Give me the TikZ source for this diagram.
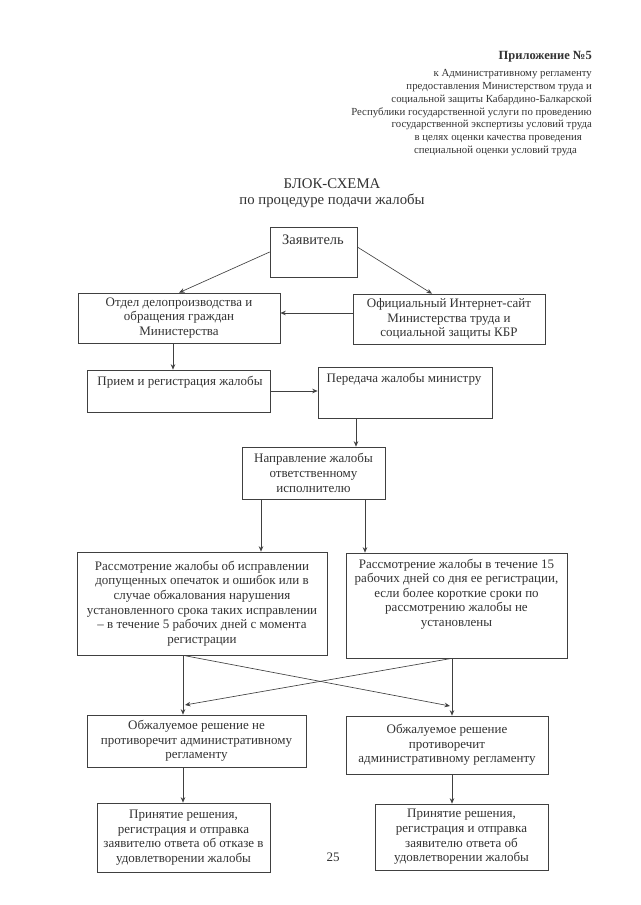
\documentclass[tikz,border=0pt]{standalone}
\usepackage{fontspec}
\setmainfont{Liberation Serif}
\usetikzlibrary{arrows.meta, calc}

\definecolor{ink}{gray}{0.2}
\definecolor{rulec}{gray}{0.25}

\begin{document}
\begin{tikzpicture}[x=1pt, y=-1pt,
	box/.style={draw=rulec, line width=0.65pt, inner sep=0pt, align=center, text=ink, font=\fontsize{13}{14.6}\selectfont},
	txt/.style={inner sep=0pt, align=center, text=ink, font=\fontsize{13}{14.6}\selectfont},
	arr/.style={draw=rulec, line width=0.65pt, -{Stealth[length=5.5pt, width=4.5pt]}}]
	\useasboundingbox [fill=white] (0, 0) rectangle (640, 905);

	\node (app) at (592, 57) [anchor=east, inner sep=0pt, text=ink, font=\fontsize{12.5}{14}\selectfont\bfseries] {Приложение №5};
	\node (reglam) at (592, 69) [anchor=north east, align=right, inner sep=0pt, text=ink, font=\fontsize{10.8}{12.9}\selectfont] {к Административному регламенту\\предоставления Министерством труда и\\социальной защиты Кабардино-Балкарской\\Республики государственной услуги по проведению\\государственной экспертизы условий труда\\в целях оценки качества проведения\mbox{\hspace{10pt}}\\специальной оценки условий труда\mbox{\hspace{15pt}}};

	\node (title) at (332, 193) [txt, font=\fontsize{14.8}{15.5}\selectfont] {БЛОК-СХЕМА\\по процедуре подачи жалобы};

	\node (zayav) at (313.5, 252) [box, minimum width=87pt, minimum height=50pt] {};
	\node (zayavtext) at (313, 240) [txt, font=\fontsize{14.5}{16}\selectfont] {Заявитель};
	\node (otdel) at (179, 318) [box, minimum width=202pt, minimum height=50pt] {Отдел делопроизводства и\\обращения граждан\\Министерства};
	\node (site) at (449, 319) [box, minimum width=192pt, minimum height=50pt] {Официальный Интернет-сайт\\Министерства труда и\\социальной защиты КБР};

	\draw [arr] (zayav.west) -- (otdel.north);
	\draw [arr] ([yshift=5pt]zayav.east) -- ([xshift=-17pt]site.north);
	\draw [arr] ([yshift=6pt]site.west) -- ([yshift=6pt]site.west -| otdel.east);

	\node (priem) at (178.5, 391) [box, minimum width=183pt, minimum height=42pt] {};
	\node (priemtext) at (180, 382) [txt] {Прием и регистрация жалобы};
	\node (peredacha) at (405, 392.5) [box, minimum width=174pt, minimum height=51pt] {};
	\node (peredachatext) at (404, 379) [txt] {Передача жалобы министру};

	\draw [arr] (otdel.south -| 173, 0) -- (priem.north -| 173, 0);
	\draw [arr] (priem.east) -- (priem.east -| peredacha.west);

	\node (napr) at (313.5, 473) [box, minimum width=143pt, minimum height=52pt] {Направление жалобы\\ответственному\\исполнителю};

	\draw [arr] (peredacha.south -| 356, 0) -- (napr.north -| 356, 0);

	\node (ras1) at (202, 603.5) [box, minimum width=250pt, minimum height=103pt] {Рассмотрение жалобы об исправлении\\допущенных опечаток и ошибок или в\\случае обжалования нарушения\\установленного срока таких исправлении\\-- в течение 5 рабочих дней с момента\\регистрации};
	\node (ras2) at (456.5, 605.5) [box, minimum width=221pt, minimum height=105pt] {};
	\node (ras2text) at (456.5, 594) [txt] {Рассмотрение жалобы в течение 15\\рабочих дней со дня ее регистрации,\\если более короткие сроки по\\рассмотрению жалобы не\\установлены};

	\draw [arr] (napr.south -| 261, 0) -- (ras1.north -| 261, 0);
	\draw [arr] (napr.south -| 365, 0) -- (ras2.north -| 365, 0);

	\node (obzh1) at (196.5, 741) [box, minimum width=219pt, minimum height=52pt] {Обжалуемое решение не\\противоречит административному\\регламенту};
	\node (obzh2) at (447, 745) [box, minimum width=202pt, minimum height=58pt] {Обжалуемое решение\\противоречит\\административному регламенту};
	\coordinate (cross1) at (450, 706);
	\coordinate (cross2) at (185, 705);

	\draw [arr] (ras1.south -| 183, 0) -- (obzh1.north -| 183, 0);
	\draw [arr] (ras2.south -| 452, 0) -- (obzh2.north -| 452, 0);
	\draw [arr] (ras1.south -| 183, 0) -- (cross1);
	\draw [arr] (ras2.south -| 452, 0) -- (cross2);

	\node (prin1) at (183.5, 837.5) [box, minimum width=173pt, minimum height=69pt] {Принятие решения,\\регистрация и отправка\\заявителю ответа об отказе в\\удовлетворении жалобы};
	\node (prin2) at (461.5, 837) [box, minimum width=173pt, minimum height=66pt] {Принятие решения,\\регистрация и отправка\\заявителю ответа об\\удовлетворении жалобы};

	\draw [arr] (obzh1.south -| 183, 0) -- (prin1.north -| 183, 0);
	\draw [arr] (obzh2.south -| 452, 0) -- (prin2.north -| 452, 0);

	\node (page) at (333, 857) [txt] {25};
\end{tikzpicture}
\end{document}
